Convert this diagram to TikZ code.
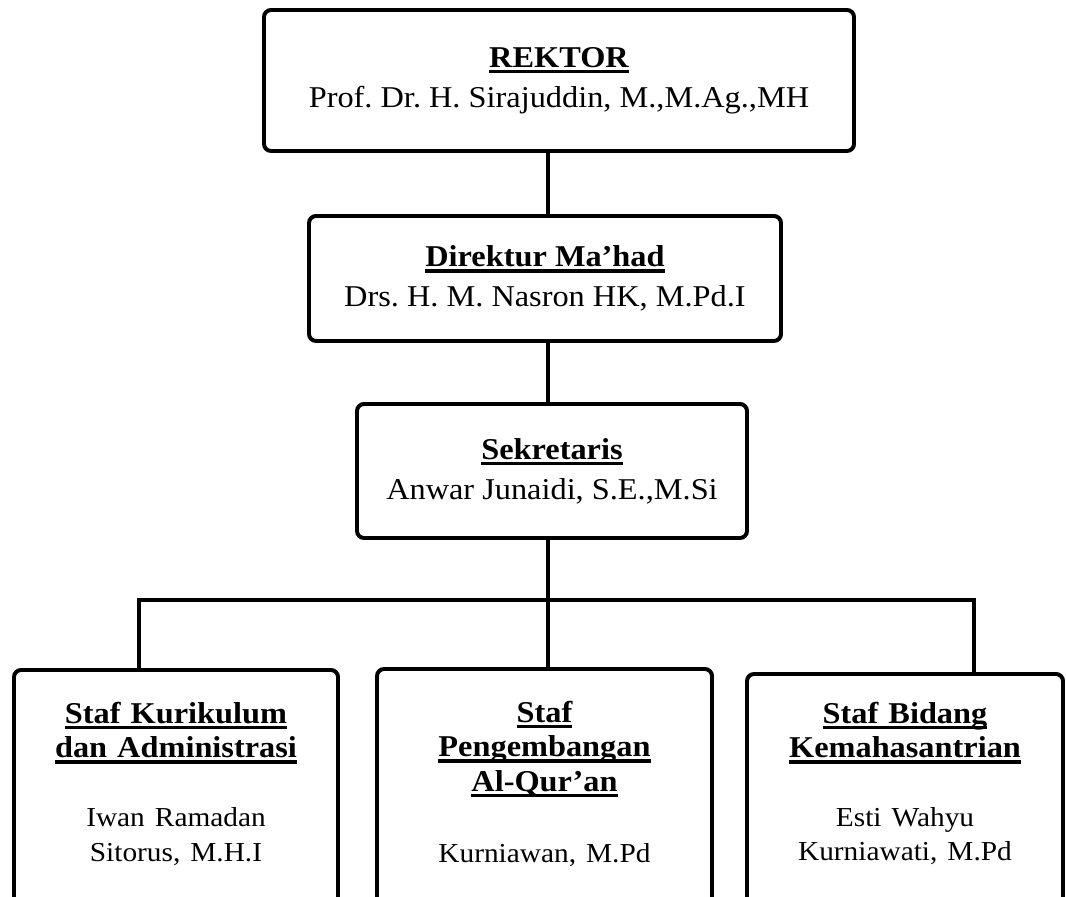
\documentclass[tikz,border=0pt]{standalone}
\usepackage{fontspec}
\setmainfont{Liberation Serif}[FakeStretch=1.07]
\frenchspacing
\newcommand{\ulbold}[1]{%
    \leavevmode\setbox0=\hbox{\bfseries #1}\rlap{\rule[-4.2pt]{\wd0}{2.4pt}}\box0}
\newcommand{\nama}[1]{{\fontsize{19.5}{24.5}\selectfont #1}}
\tikzset{%
    orgbox/.style={%
        draw, line width=2.8pt, rounded corners=5pt, align=center,
        outer sep=0pt, font=\fontsize{21.5}{28.4}\selectfont
    },
    staffbox/.style={%
        orgbox, anchor=north, inner xsep=0pt, inner ysep=0pt,
        font=\fontsize{21.5}{24.5}\selectfont,
        text width=#1, text height=38pt, text depth=220pt
    },
    link/.style={line width=2.4pt}
}

\begin{document}
\begin{tikzpicture}

    \useasboundingbox (0, 0) rectangle (26.65, 22.4);
    \clip (0, 0) rectangle (26.65, 22.4);

    % Pimpinan
    \node[orgbox, minimum width=14.75cm, minimum height=3.525cm]
        (rektor) at (13.975, 20.3875)
        {\ulbold{REKTOR}\\ Prof. Dr. H. Sirajuddin, M.,M.Ag.,MH};
    \node[orgbox, minimum width=11.8cm, minimum height=3.125cm]
        (direktur) at (13.625, 15.4375)
        {\ulbold{Direktur Ma'had}\\ Drs. H. M. Nasron HK, M.Pd.I};
    \node[orgbox, minimum width=9.75cm, minimum height=3.35cm]
        (sekretaris) at (13.8, 10.625)
        {\ulbold{Sekretaris}\\ Anwar Junaidi, S.E.,M.Si};

    % Staf
    \node[staffbox=8.1cm] (kurikulum) at (4.4, 5.65)
        {\ulbold{Staf Kurikulum}\\ \ulbold{dan Administrasi}\\[24.5pt]
         \nama{Iwan Ramadan\\ Sitorus, M.H.I}};
    \node[staffbox=8.375cm] (pengembangan) at (13.6125, 5.675)
        {\ulbold{Staf}\\ \ulbold{Pengembangan}\\ \ulbold{Al-Qur'an}\\[26pt]
         \nama{Kurniawan, M.Pd}};
    \node[staffbox=7.9cm, text height=35pt] (kemahasantrian) at (22.625, 5.55)
        {\ulbold{Staf Bidang}\\ \ulbold{Kemahasantrian}\\[24.5pt]
         \nama{Esti Wahyu\\ Kurniawati, M.Pd}};

    % Garis
    \coordinate (spine) at (13.7, 7.4);
    \coordinate (barleft) at (3.475, 7.4);
    \coordinate (barright) at (24.35, 7.4);
    \draw[link] (rektor.south -| spine) -- (direktur.north -| spine);
    \draw[link] (direktur.south -| spine) -- (sekretaris.north -| spine);
    \draw[link] (sekretaris.south -| spine) -- (spine)
        -- (spine |- pengembangan.north);
    \draw[link] (barleft |- kurikulum.north) -- (barleft) -- (barright)
        -- (barright |- kemahasantrian.north);

\end{tikzpicture}
\end{document}
